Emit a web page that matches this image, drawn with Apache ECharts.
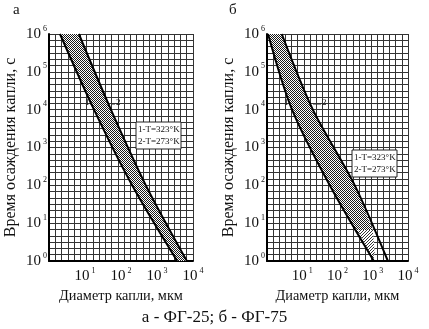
<!DOCTYPE html>
<html><head><meta charset="utf-8">
<script src="https://cdn.jsdelivr.net/npm/echarts@6/dist/echarts.min.js"></script>
<style>html,body{margin:0;padding:0;background:#fff}#c{width:429px;height:329px}</style>
</head><body><div id="c"></div>
<script>
// Settling time (s) at which each boundary curve is sampled
const times = [1e6, 1e4, 1e2, 1e0];
// Drop diameter (µm) of the boundary curves: 1 - T=323°K, 2 - T=273°K
const fg25Curve1 = [2.02, 17.8, 204, 3630];
const fg25Curve2 = [6.76, 52.5, 490, 6760];
const fg75Curve1 = [1.07, 5.13, 60.3, 1072];
const fg75Curve2 = [2.63, 20.0, 309, 2690];
// ФГ-75: right edge of the cross-hatched zone below 10^2 s, and the
// single-hatched zone near the bottom of the band ([diameter, time])
const fg75CrossEdgeLow = [[1000, 6.6]];
const fg75HatchZone = [[380, 6.6], [1000, 6.6], [1150, 1.5], [830, 1.5]];
// Axis decades shown as 10^n
const xTickExps = [1, 2, 3, 4];
const yTickExps = [0, 1, 2, 3, 4, 5, 6];
const panelTitles = ['а', 'б'];
const legendLines = ['1-T=323°K', '2-T=273°K'];
const yName = 'Время осаждения капли, с';
const xName = 'Диаметр капли, мкм';
const caption = 'а - ФГ-25; б - ФГ-75';

const SERIF = 'Liberation Serif';
const chart = echarts.init(document.getElementById('c'), null, {renderer: 'canvas'});

// fine checker used to fill the band between the two curves
function checker() {
  const c = document.createElement('canvas');
  c.width = 2; c.height = 2;
  const g = c.getContext('2d');
  g.fillStyle = '#fff'; g.fillRect(0, 0, 2, 2);
  g.fillStyle = '#1a1a1a';
  g.fillRect(0, 0, 1, 1); g.fillRect(1, 1, 1, 1);
  return {image: c, repeat: 'repeat'};
}
// single diagonal hatching
function diagonal() {
  const c = document.createElement('canvas');
  c.width = 3; c.height = 3;
  const g = c.getContext('2d');
  g.fillStyle = '#fff'; g.fillRect(0, 0, 3, 3);
  g.fillStyle = '#333';
  g.fillRect(2, 0, 1, 1); g.fillRect(1, 1, 1, 1); g.fillRect(0, 2, 1, 1);
  return {image: c, repeat: 'repeat'};
}
const crossFill = checker();
const hatchFill = diagonal();

const pts = arr => arr.map((d, i) => [d, times[i]]);

// decade labels: 10 with the exponent raised
function supLabel(v, exps) {
  const e = Math.round(Math.log10(v));
  if (exps.indexOf(e) < 0) return '';
  return '{b|10}{s|' + e + '}';
}
const rich = {
  b: {fontFamily: SERIF, fontSize: 15, color: '#111'},
  s: {fontFamily: SERIF, fontSize: 8, color: '#111', padding: [0, 0, 11, 2]}
};

const grids = [
  {left: 49, top: 34, width: 144, height: 227},
  {left: 267, top: 34, width: 141, height: 227}
];

const xAxes = [], yAxes = [];
grids.forEach((g, i) => {
  xAxes.push({
    gridIndex: i, type: 'log', logBase: 10, min: 1, max: 1e4,
    axisLine: {show: true, onZero: false, lineStyle: {color: '#000', width: 2}},
    axisTick: {show: false}, splitLine: {show: false},
    axisLabel: {formatter: v => supLabel(v, xTickExps), rich: rich, margin: 6},
    name: xName, nameLocation: 'middle', nameGap: 27,
    nameTextStyle: {fontFamily: SERIF, fontSize: 14.3, color: '#111'}
  });
  yAxes.push({
    gridIndex: i, type: 'log', logBase: 10, min: 1, max: 1e6,
    axisLine: {show: true, onZero: false, lineStyle: {color: '#000', width: 2}},
    axisTick: {show: false}, splitLine: {show: false},
    axisLabel: {formatter: v => supLabel(v, yTickExps), rich: rich, margin: 2},
    name: yName, nameLocation: 'middle', nameGap: 30,
    nameTextStyle: {fontFamily: SERIF, fontSize: 16, color: '#111'}
  });
});
// graph-paper ruling behind each panel
grids.forEach((g, i) => {
  xAxes.push({gridIndex: i, type: 'value', min: 0, max: 23, interval: 1,
    axisLine: {show: false}, axisTick: {show: false}, axisLabel: {show: false},
    splitLine: {show: true, lineStyle: {color: '#333', width: 1}}});
  yAxes.push({gridIndex: i, type: 'value', min: 0, max: 36, interval: 1,
    axisLine: {show: false}, axisTick: {show: false}, axisLabel: {show: false},
    splitLine: {show: true, lineStyle: {color: '#333', width: 1}}});
});

function area(idx, poly, fill, z) {
  return {
    type: 'custom', xAxisIndex: idx, yAxisIndex: idx, clip: true, z: z,
    data: [0],
    renderItem: (params, api) => ({
      type: 'polygon',
      shape: {points: poly.map(p => api.coord(p))},
      style: {fill: fill, stroke: null}
    })
  };
}
function curve(idx, c) {
  return {type: 'line', xAxisIndex: idx, yAxisIndex: idx, data: pts(c),
    symbol: 'none', smooth: 0.3, z: 5, lineStyle: {color: '#000', width: 2}};
}

const fg25Band = pts(fg25Curve1).concat(pts(fg25Curve2).reverse());
const fg75Band = pts(fg75Curve1)
  .concat(fg75CrossEdgeLow, pts(fg75Curve2).slice(0, 3).reverse());

const txt = (x, y, text, size, extra) => Object.assign({type: 'text', x, y,
  style: {text, font: size + 'px ' + SERIF, fill: '#111'}}, extra || {});
const ln = (x1, y1, x2, y2) => ({type: 'line', shape: {x1, y1, x2, y2},
  style: {stroke: '#222', lineWidth: 1}});
function legendBox(x, y) {
  return [
    {type: 'rect', shape: {x, y, width: 45, height: 27},
      style: {fill: '#fff', stroke: '#222', lineWidth: 1}, z: 10},
    txt(x + 2, y + 3, legendLines[0], 9, {z: 11}),
    txt(x + 2, y + 15, legendLines[1], 9, {z: 11})
  ];
}

chart.setOption({
  animation: false,
  grid: grids,
  xAxis: xAxes,
  yAxis: yAxes,
  series: [
    area(0, fg25Band, crossFill, 3), curve(0, fg25Curve1), curve(0, fg25Curve2),
    area(1, fg75Band, crossFill, 3), area(1, fg75HatchZone, hatchFill, 4),
    curve(1, fg75Curve1), curve(1, fg75Curve2)
  ],
  graphic: [
    txt(13, 3, panelTitles[0], 15),
    txt(229, 3, panelTitles[1], 15),
    txt(85, 98, '1', 9, {z: 11}), ln(90, 104, 94, 104),
    txt(116, 98, '2', 9, {z: 11}), ln(111, 104, 115, 104),
    txt(284, 98, '1', 9, {z: 11}), ln(289, 104, 292, 104),
    txt(322, 98, '2', 9, {z: 11}), ln(313, 104, 321, 104),
    ...legendBox(136, 122),
    ...legendBox(352, 150),
    {type: 'text', left: 'center', top: 309,
      style: {text: caption, font: '17px ' + SERIF, fill: '#111'}}
  ]
});
</script></body></html>
